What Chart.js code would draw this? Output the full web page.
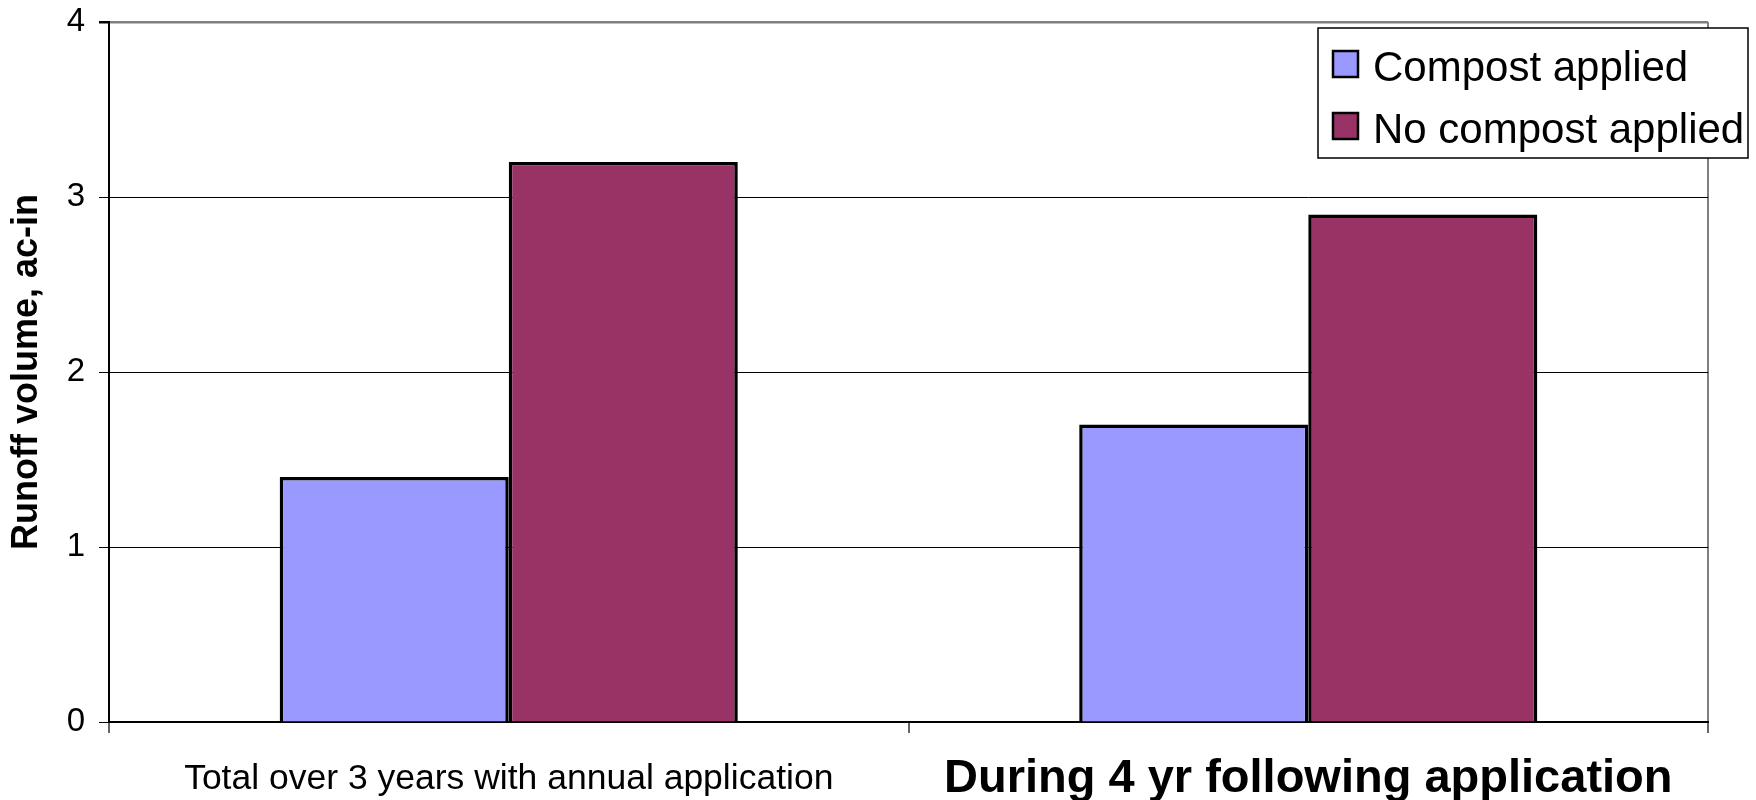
<!DOCTYPE html>
<html>
<head>
<meta charset="utf-8">
<script src="https://cdn.jsdelivr.net/npm/chart.js@4.4.1/dist/chart.umd.min.js"></script>
<style>
  html, body { margin: 0; padding: 0; background: #ffffff; }
  canvas { display: block; }
</style>
</head>
<body>
<canvas id="runoff" width="1756" height="800"></canvas>
<script>
// Runoff volume by treatment period (acre-inches)
const categories = [
  'Total over 3 years with annual application',
  'During 4 yr following application'
];
const seriesNames = ['Compost applied', 'No compost applied'];
const compostApplied = [1.4, 1.7];
const noCompostApplied = [3.2, 2.9];
const yTicks = [0, 1, 2, 3, 4];

const FONT = 'Liberation Sans, Arial, Helvetica, sans-serif';
const seriesColors = ['#9999FF', '#993366'];

// Boxed legend drawn over the top-right corner of the plot
const boxedLegend = {
  id: 'boxedLegend',
  afterDraw(chart) {
    const ctx = chart.ctx;
    const area = chart.chartArea;
    const x0 = area.right - 390, y0 = area.top + 6;
    const w = 430, h = 130;
    ctx.save();
    ctx.fillStyle = '#ffffff';
    ctx.fillRect(x0, y0, w, h);
    ctx.strokeStyle = '#000000';
    ctx.lineWidth = 1.5;
    ctx.strokeRect(x0, y0, w, h);
    ctx.font = '42px ' + FONT;
    ctx.textBaseline = 'alphabetic';
    chart.data.datasets.forEach((ds, i) => {
      const rowBase = y0 + 53 + i * 62;
      ctx.fillStyle = ds.backgroundColor;
      ctx.fillRect(x0 + 15, rowBase - 30, 25, 26);
      ctx.lineWidth = 2.5;
      ctx.strokeStyle = '#000000';
      ctx.strokeRect(x0 + 15, rowBase - 30, 25, 26);
      ctx.fillStyle = '#000000';
      ctx.fillText(ds.label, x0 + 55, rowBase);
    });
    ctx.restore();
  }
};

new Chart(document.getElementById('runoff'), {
  type: 'bar',
  data: {
    labels: categories,
    datasets: [
      { label: seriesNames[0], data: compostApplied, backgroundColor: seriesColors[0] },
      { label: seriesNames[1], data: noCompostApplied, backgroundColor: seriesColors[1] }
    ]
  },
  options: {
    responsive: false,
    animation: false,
    devicePixelRatio: 1,
    layout: { padding: { top: 22, right: 48, left: 0, bottom: 0 } },
    datasets: {
      bar: {
        borderColor: '#000000',
        borderWidth: 3.5,
        categoryPercentage: 0.573,
        barPercentage: 1.0
      }
    },
    plugins: {
      legend: { display: false },
      tooltip: { enabled: false }
    },
    scales: {
      x: {
        offset: true,
        afterFit(scale) { scale.height = 78; },
        border: { display: true, color: '#000000', width: 2 },
        grid: {
          offset: true,
          drawOnChartArea: true,
          color: (c) => (c.type === 'scale' ? '#808080' : 'rgba(0,0,0,0)'),
          lineWidth: 2,
          tickColor: '#333333',
          tickWidth: 1.5,
          tickLength: 11
        },
        ticks: {
          color: '#000000',
          padding: 25,
          maxRotation: 0,
          autoSkip: false,
          font: (c) => (c.index === 1
            ? { family: FONT, size: 47, weight: 'bold', lineHeight: 0.9 }
            : { family: FONT, size: 35.5, weight: 'normal' })
        }
      },
      y: {
        min: 0,
        max: 4,
        afterFit(scale) {
          scale.width = 109;
          scale.paddingTop = 0;
          scale.paddingBottom = 0;
        },
        afterBuildTicks(scale) { scale.ticks = yTicks.map(v => ({ value: v })); },
        border: { display: true, color: '#000000', width: 2 },
        grid: {
          color: (c) => (c.tick && c.tick.value === 4 ? '#808080' : '#000000'),
          lineWidth: (c) => (c.tick && c.tick.value === 4 ? 2.5 : 1),
          tickColor: '#000000',
          tickLength: 10
        },
        ticks: {
          color: '#000000',
          padding: 14,
          font: { family: FONT, size: 33 }
        },
        title: {
          display: true,
          text: 'Runoff volume, ac-in',
          color: '#000000',
          padding: { top: 5, bottom: 0 },
          font: { family: FONT, size: 36, weight: 'bold' }
        }
      }
    }
  },
  plugins: [boxedLegend]
});
</script>
</body>
</html>
